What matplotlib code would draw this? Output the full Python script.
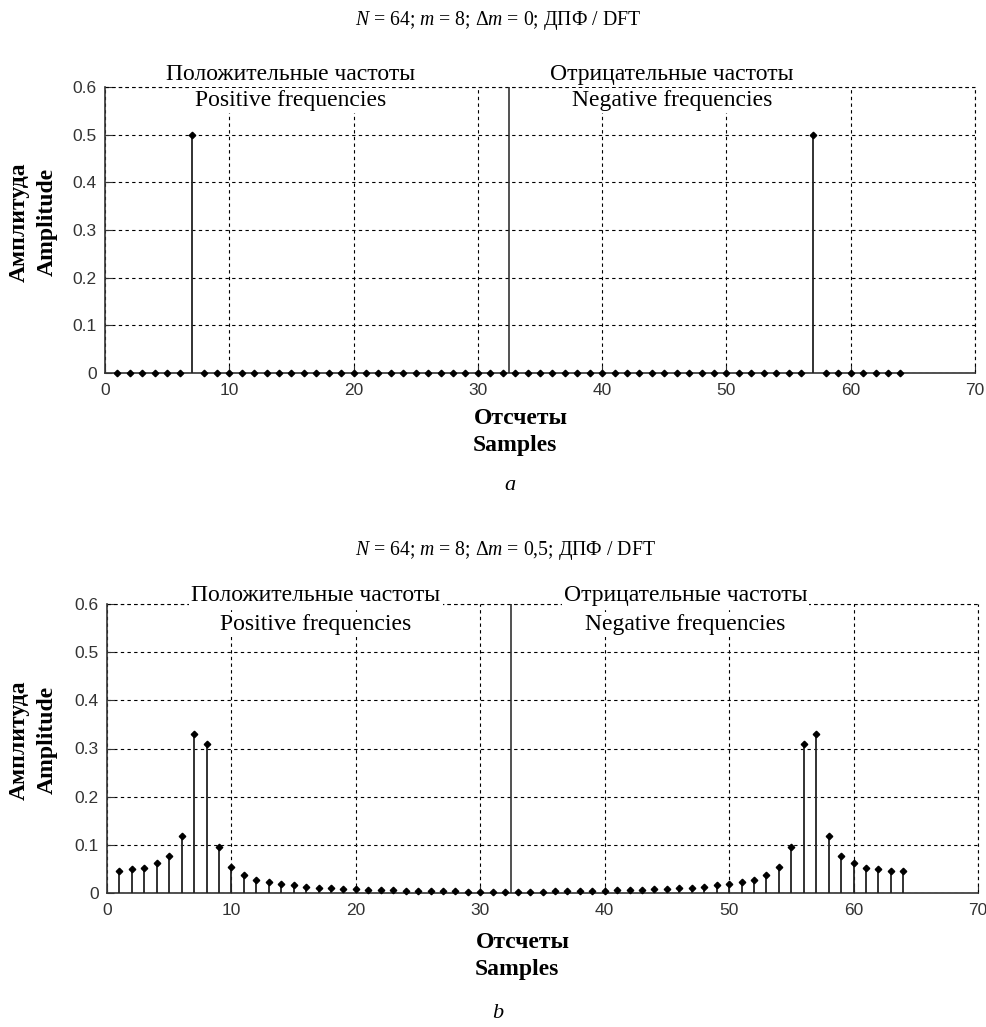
import matplotlib
matplotlib.use("Agg")
import matplotlib.pyplot as plt
import numpy as np

plt.rcParams['font.family'] = ['Liberation Serif', 'DejaVu Serif']
plt.rcParams['mathtext.fontset'] = 'custom'
plt.rcParams['mathtext.rm'] = 'Liberation Serif'
plt.rcParams['mathtext.it'] = 'Liberation Serif:italic'

# ---- data ----
samples = list(range(1, 65))
amp_a = [0.0] * 64
amp_a[6] = 0.5   # sample 7
amp_a[56] = 0.5  # sample 57

amp_b = [0.046, 0.049, 0.052, 0.062, 0.077, 0.119, 0.330, 0.310,
         0.095, 0.055, 0.037, 0.028, 0.022, 0.018, 0.016, 0.013,
         0.011, 0.010, 0.009, 0.008, 0.007, 0.006, 0.006, 0.005,
         0.005, 0.004, 0.004, 0.004, 0.003, 0.003, 0.003, 0.003,
         0.003, 0.003, 0.003, 0.004, 0.004, 0.004, 0.005, 0.005,
         0.006, 0.006, 0.007, 0.008, 0.009, 0.010, 0.011, 0.013,
         0.016, 0.018, 0.022, 0.028, 0.037, 0.055, 0.095, 0.310,
         0.330, 0.119, 0.077, 0.062, 0.052, 0.049, 0.046, 0.045]

nyquist = 32.5
xticks = [0, 10, 20, 30, 40, 50, 60, 70]
yticks = [0, 0.1, 0.2, 0.3, 0.4, 0.5, 0.6]
ytick_labels = ['0', '0.1', '0.2', '0.3', '0.4', '0.5', '0.6']

titles = [r"$N$ = 64; $m$ = 8; Δ$m$ = 0; ДПФ / DFT",
          r"$N$ = 64; $m$ = 8; Δ$m$ = 0,5; ДПФ / DFT"]
captions = ['a', 'b']

W, H = 987, 1027
fig = plt.figure(figsize=(W / 100, H / 100), dpi=100)

def px(x, y):
    return x / W, 1 - y / H

layouts = [
    dict(rect=(105, 87, 975, 373), title_y=20, pos=(14.9, 0.627, 0.572), neg=(45.6, 0.627, 0.572),
         xl=(521, 418, 515, 445), yl=(222, 19, 47), cap=(510, 485)),
    dict(rect=(107, 604, 978, 893), title_y=550, pos=(16.8, 0.617, 0.558), neg=(46.5, 0.617, 0.558),
         xl=(523, 942, 517, 969), yl=(740, 19, 47), cap=(498, 1013)),
]
data = [amp_a, amp_b]
axcol = '#333333'

for i, (L, amp) in enumerate(zip(layouts, data)):
    x0, y0, x1, y1 = L['rect']
    ax = fig.add_axes([x0 / W, 1 - y1 / H, (x1 - x0) / W, (y1 - y0) / H])
    ax.set_xlim(0, 70)
    ax.set_ylim(0, 0.6)
    ax.set_xticks(xticks)
    ax.set_yticks(yticks)
    ax.set_yticklabels(ytick_labels)
    for lab in ax.get_xticklabels() + ax.get_yticklabels():
        lab.set_family('Liberation Sans')
        lab.set_fontsize(12.5)
        lab.set_color('#333333')
    ax.tick_params(direction='in', length=5, width=0.8, color=axcol, pad=6,
                   top=False, right=False)
    ax.tick_params(axis='x', pad=7)
    for s in ['top', 'right']:
        ax.spines[s].set_visible(False)
    for s in ['left', 'bottom']:
        ax.spines[s].set_color(axcol)
        ax.spines[s].set_linewidth(1.2)
    ax.grid(True, color='black', linestyle=(0, (3, 3)), linewidth=0.8)
    ax.set_axisbelow(True)
    ax.axhline(0.6, color='black', linestyle=(0, (3, 3)), linewidth=0.8, clip_on=False)
    ax.axvline(70, color='black', linestyle=(0, (3, 3)), linewidth=0.8, clip_on=False)

    ax.vlines(samples, 0, amp, colors='#222222', linewidth=1.3, zorder=3)
    ax.plot(samples, amp, linestyle='none', marker='D', markersize=3.3,
            color='black', zorder=4, clip_on=False)
    ax.axvline(nyquist, color='#222222', linewidth=1.1, zorder=3)

    tkw = dict(ha='center', va='center', fontsize=17, zorder=6,
               bbox=dict(facecolor='white', edgecolor='none', pad=1.5))
    ax.text(L['pos'][0], L['pos'][1], 'Положительные частоты', **tkw, clip_on=False)
    ax.text(L['pos'][0], L['pos'][2], 'Positive frequencies', **tkw)
    ax.text(L['neg'][0], L['neg'][1], 'Отрицательные частоты', **tkw, clip_on=False)
    ax.text(L['neg'][0], L['neg'][2], 'Negative frequencies', **tkw)

    fig.text(*px(355, L['title_y']), titles[i], ha='left', va='center', fontsize=14.2)
    fig.text(*px(L['xl'][0], L['xl'][1]), 'Отсчеты', ha='center', va='center',
             fontsize=17, weight='bold')
    fig.text(*px(L['xl'][2], L['xl'][3]), 'Samples', ha='center', va='center',
             fontsize=17, weight='bold')
    fig.text(*px(L['yl'][1], L['yl'][0]), 'Амплитуда', ha='center', va='center',
             fontsize=17, rotation=90, weight='bold')
    fig.text(*px(L['yl'][2], L['yl'][0]), 'Amplitude', ha='center', va='center',
             fontsize=17, rotation=90, weight='bold')
    fig.text(*px(*L['cap']), captions[i], ha='center', va='center',
             fontsize=16, style='italic')

fig.savefig('out.png', dpi=100, facecolor='white')
